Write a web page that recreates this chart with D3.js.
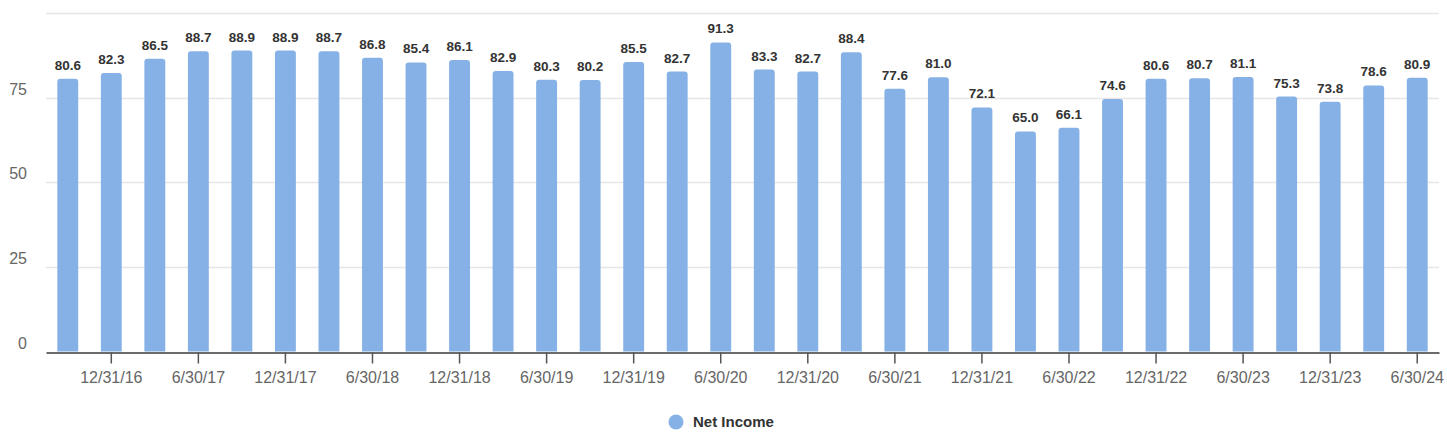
<!DOCTYPE html>
<html>
<head>
<meta charset="utf-8">
<script src="https://cdn.jsdelivr.net/npm/d3@7"></script>
<style>
  body { margin: 0; background: #fff; }
  svg { display: block; font-family: "Liberation Sans", Arial, sans-serif; }
</style>
</head>
<body>
<svg></svg>
<script>
// Quarter-end dates, 9/30/16 .. 6/30/24
var quarters = ["9/30/16", "12/31/16", "3/31/17", "6/30/17", "9/30/17", "12/31/17",
  "3/31/18", "6/30/18", "9/30/18", "12/31/18", "3/31/19", "6/30/19", "9/30/19",
  "12/31/19", "3/31/20", "6/30/20", "9/30/20", "12/31/20", "3/31/21", "6/30/21",
  "9/30/21", "12/31/21", "3/31/22", "6/30/22", "9/30/22", "12/31/22", "3/31/23",
  "6/30/23", "9/30/23", "12/31/23", "3/31/24", "6/30/24"];

var netIncome = [80.6, 82.3, 86.5, 88.7, 88.9, 88.9, 88.7, 86.8, 85.4, 86.1, 82.9,
  80.3, 80.2, 85.5, 82.7, 91.3, 83.3, 82.7, 88.4, 77.6, 81.0, 72.1, 65.0, 66.1,
  74.6, 80.6, 80.7, 81.1, 75.3, 73.8, 78.6, 80.9];

var yTicks = [0, 25, 50, 75, 100];
var yTickLabels = ["0", "25", "50", "75", ""];
var seriesName = "Net Income";

var width = 1447,
    height = 437;

var margin = { left: 46, right: 8, top: 13, bottom: 85 };

var svg = d3.select("svg")
    .attr("width", width)
    .attr("height", height);

var x = d3.scaleBand()
    .domain(quarters)
    .range([margin.left, width - margin.right])
    .paddingInner(0.52)
    .paddingOuter(0.26);

var y = d3.scaleLinear()
    .domain([0, 100])
    .range([height - margin.bottom - 0.5, margin.top]);

// gridlines
svg.append("g")
  .selectAll("line")
    .data(yTicks.slice(1))
  .enter().append("line")
    .attr("x1", margin.left)
    .attr("x2", width - margin.right)
    .attr("y1", function(d) { return Math.round(y(d)) + 0.5; })
    .attr("y2", function(d) { return Math.round(y(d)) + 0.5; })
    .attr("stroke", "#e6e6e6")
    .attr("stroke-width", 1.5);

// y labels sit above-left of their gridline
svg.append("g")
  .selectAll("text")
    .data(yTicks)
  .enter().append("text")
    .attr("x", 27)
    .attr("y", function(d) { return y(d) - 3; })
    .attr("text-anchor", "end")
    .attr("font-size", 16)
    .attr("fill", "#666")
    .text(function(d, i) { return yTickLabels[i]; });

// bars with rounded tops
function barPath(d, i) {
  var x0 = x(quarters[i]), w = x.bandwidth(),
      y0 = y(0), y1 = y(d), r = 3;
  return "M" + x0 + "," + y0 +
    "V" + (y1 + r) +
    "Q" + x0 + "," + y1 + " " + (x0 + r) + "," + y1 +
    "H" + (x0 + w - r) +
    "Q" + (x0 + w) + "," + y1 + " " + (x0 + w) + "," + (y1 + r) +
    "V" + y0 + "Z";
}

svg.append("g")
  .selectAll("path")
    .data(netIncome)
  .enter().append("path")
    .attr("d", barPath)
    .attr("fill", "#86b1e6");

svg.append("g")
  .selectAll("text")
    .data(netIncome)
  .enter().append("text")
    .attr("x", function(d, i) { return x(quarters[i]) + x.bandwidth() / 2; })
    .attr("y", function(d) { return y(d) - 9; })
    .attr("text-anchor", "middle")
    .attr("font-size", 13.5)
    .attr("font-weight", "bold")
    .attr("fill", "#333")
    .text(function(d) { return d.toFixed(1); });

// x axis: ticks on every other quarter (half-year ends)
var xAxis = d3.axisBottom(x)
    .tickValues(quarters.filter(function(d, i) { return i % 2 === 1; }))
    .tickSize(11)
    .tickSizeOuter(0)
    .tickPadding(8);

var gx = svg.append("g")
    .attr("transform", "translate(0," + (y(0) + 1) + ")")
    .call(xAxis);

gx.select(".domain").attr("stroke", "#6b6b6b").attr("stroke-width", 2);
gx.selectAll(".tick line").attr("stroke", "#555").attr("stroke-width", 1.5);
gx.selectAll(".tick text")
    .attr("font-size", 16)
    .attr("font-family", "Liberation Sans, Arial, sans-serif")
    .attr("fill", "#666");

// legend
var legend = svg.append("g")
    .attr("transform", "translate(676,422)");

legend.append("circle")
    .attr("r", 7.5)
    .attr("fill", "#86b1e6");

legend.append("text")
    .attr("x", 17)
    .attr("y", 5)
    .attr("font-size", 15)
    .attr("font-weight", "bold")
    .attr("fill", "#333")
    .text(seriesName);
</script>
</body>
</html>
